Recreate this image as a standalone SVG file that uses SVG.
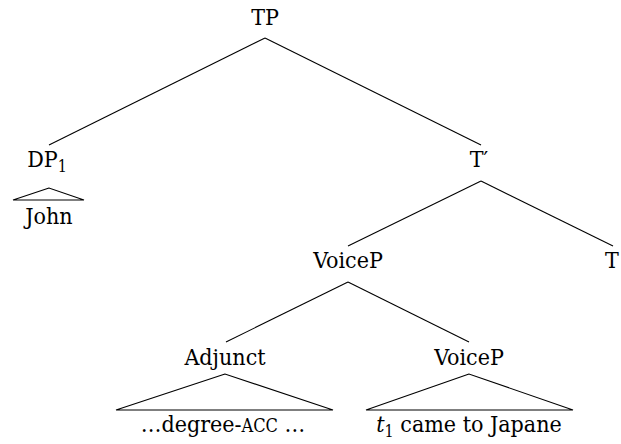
<svg xmlns="http://www.w3.org/2000/svg" width="621" height="444" viewBox="0 0 621 444" font-family="DejaVu Serif Condensed, DejaVu Serif, serif">
<style>
text{font-size:23px;fill:#000;text-anchor:middle}
.sub{font-size:16px}
.sc{font-size:18px}
line,polygon{stroke:#000;stroke-width:1.1;fill:none}
</style>
<rect width="621" height="444" fill="#fff"/>
<g id="connectors">
<line x1="265" y1="38" x2="49" y2="145"/>
<line x1="265" y1="38" x2="481" y2="145"/>
<line x1="481" y1="181" x2="348" y2="246"/>
<line x1="481" y1="181" x2="613" y2="246"/>
<line x1="348" y1="282" x2="226" y2="342"/>
<line x1="348" y1="282" x2="469" y2="342"/>
</g>
<g id="TP"><text x="265" y="25">TP</text></g>
<g id="DP1"><text x="47" y="167">DP<tspan class="sub" dy="5">1</tspan></text></g>
<g id="John"><polygon points="49,188 13,200 84,200"/><text x="49" y="224">John</text></g>
<g id="Tbar"><text x="479" y="167">T′</text></g>
<g id="VoiceP1"><text x="348" y="268">VoiceP</text></g>
<g id="T"><text x="612" y="268">T</text></g>
<g id="Adjunct"><text x="225" y="365">Adjunct</text><polygon points="225,374 116,410 333,410"/><text x="223" y="432">…degree-<tspan class="sc">ACC</tspan> …</text></g>
<g id="VoiceP2"><text x="469" y="365">VoiceP</text><polygon points="469,374 366,410 573,410"/><text x="469" y="432"><tspan font-style="italic">t</tspan><tspan class="sub" dy="5">1</tspan><tspan dy="-5"> came to Japane</tspan></text></g>
</svg>
